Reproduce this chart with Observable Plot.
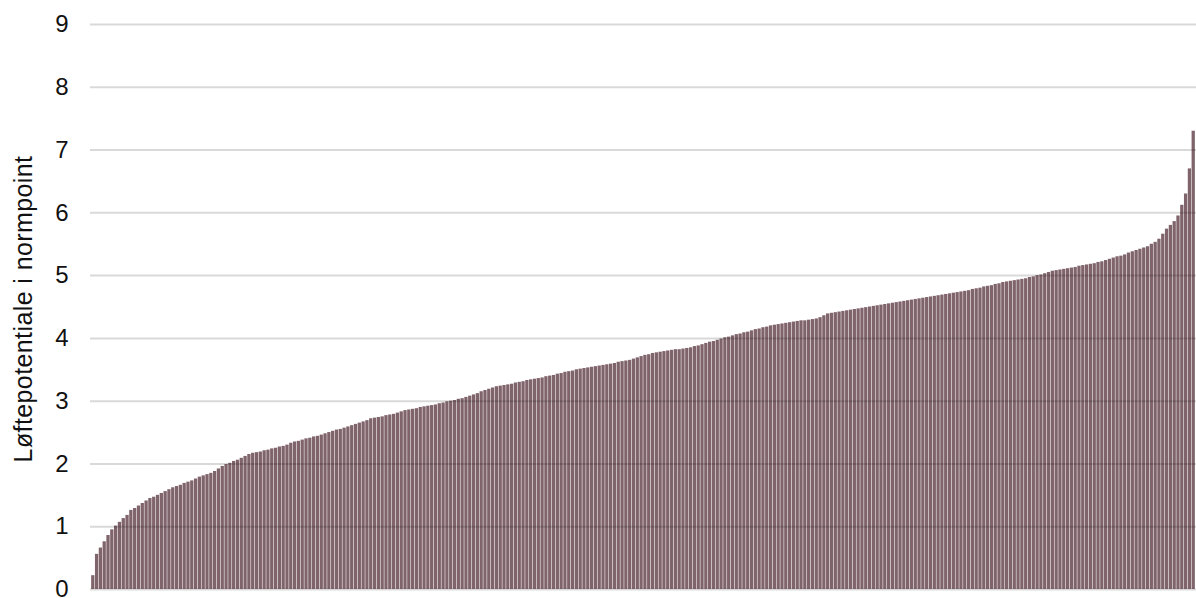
<!DOCTYPE html>
<html>
<head>
<meta charset="utf-8">
<script src="https://cdn.jsdelivr.net/npm/d3@7"></script>
<script src="https://cdn.jsdelivr.net/npm/@observablehq/plot@0.6"></script>
<style>
  html, body { margin: 0; padding: 0; background: #fff; }
  #chart { width: 1196px; height: 598px; overflow: hidden; }
</style>
</head>
<body>
<div id="chart"></div>
<script>
// Løftepotentiale per enhed, sorteret stigende
const values = [
  0.22, 0.56, 0.66, 0.76, 0.86, 0.95, 1.01, 1.07, 1.13, 1.18,
  1.26, 1.29, 1.33, 1.37, 1.41, 1.45, 1.47, 1.50, 1.53, 1.56,
  1.59, 1.62, 1.64, 1.66, 1.69, 1.71, 1.73, 1.76, 1.79, 1.81,
  1.83, 1.85, 1.88, 1.92, 1.96, 1.99, 2.01, 2.04, 2.06, 2.09,
  2.12, 2.15, 2.17, 2.18, 2.19, 2.21, 2.22, 2.24, 2.25, 2.27,
  2.28, 2.30, 2.33, 2.35, 2.36, 2.38, 2.40, 2.41, 2.43, 2.44,
  2.46, 2.48, 2.50, 2.52, 2.54, 2.55, 2.57, 2.59, 2.61, 2.63,
  2.65, 2.67, 2.69, 2.72, 2.73, 2.74, 2.75, 2.77, 2.78, 2.79,
  2.81, 2.83, 2.85, 2.86, 2.87, 2.88, 2.90, 2.91, 2.92, 2.93,
  2.94, 2.96, 2.97, 2.99, 3.00, 3.01, 3.03, 3.04, 3.06, 3.08,
  3.10, 3.12, 3.15, 3.17, 3.19, 3.21, 3.23, 3.24, 3.25, 3.26,
  3.27, 3.29, 3.30, 3.31, 3.33, 3.34, 3.35, 3.36, 3.37, 3.39,
  3.40, 3.41, 3.43, 3.44, 3.46, 3.47, 3.48, 3.50, 3.51, 3.52,
  3.53, 3.54, 3.55, 3.56, 3.57, 3.58, 3.59, 3.60, 3.62, 3.63,
  3.64, 3.65, 3.67, 3.69, 3.71, 3.73, 3.74, 3.76, 3.77, 3.78,
  3.79, 3.80, 3.81, 3.82, 3.82, 3.83, 3.84, 3.85, 3.87, 3.88,
  3.90, 3.92, 3.94, 3.95, 3.97, 3.99, 4.01, 4.02, 4.04, 4.06,
  4.07, 4.09, 4.10, 4.12, 4.14, 4.15, 4.17, 4.18, 4.20, 4.21,
  4.22, 4.23, 4.24, 4.25, 4.26, 4.27, 4.28, 4.28, 4.29, 4.30,
  4.31, 4.33, 4.36, 4.39, 4.40, 4.41, 4.42, 4.43, 4.44, 4.45,
  4.46, 4.47, 4.48, 4.49, 4.50, 4.51, 4.52, 4.53, 4.54, 4.55,
  4.56, 4.57, 4.58, 4.59, 4.60, 4.61, 4.62, 4.63, 4.64, 4.65,
  4.66, 4.67, 4.68, 4.69, 4.70, 4.71, 4.72, 4.73, 4.74, 4.75,
  4.76, 4.78, 4.79, 4.80, 4.82, 4.83, 4.84, 4.86, 4.87, 4.89,
  4.90, 4.91, 4.92, 4.93, 4.94, 4.95, 4.97, 4.98, 5.00, 5.01,
  5.03, 5.05, 5.07, 5.08, 5.09, 5.10, 5.11, 5.12, 5.13, 5.15,
  5.16, 5.17, 5.18, 5.19, 5.21, 5.22, 5.24, 5.26, 5.28, 5.30,
  5.31, 5.33, 5.36, 5.38, 5.40, 5.42, 5.44, 5.46, 5.50, 5.53,
  5.58, 5.66, 5.74, 5.80, 5.86, 5.95, 6.12, 6.30, 6.70, 7.30
];
const yTicks = [0, 1, 2, 3, 4, 5, 6, 7, 8, 9];
const yLabel = "Løftepotentiale i normpoint";

const data = values.map((v, i) => ({ rank: i, value: v }));

const chart = Plot.plot({
  width: 1196,
  height: 598,
  marginLeft: 90,
  marginRight: 0,
  marginTop: 24,
  marginBottom: 9,
  style: { fontFamily: "'Liberation Sans', Arial, Helvetica, sans-serif", background: "#fff", overflow: "visible" },
  x: { type: "band", domain: data.map(d => d.rank), paddingInner: 0.14, paddingOuter: 0.3, axis: null },
  y: { domain: [0, 9], ticks: yTicks, label: null },
  marks: [
    Plot.barY(data, { x: "rank", y: "value", fill: "#80646c" }),
    Plot.gridY(yTicks, { stroke: "#000", strokeOpacity: 0.15, strokeWidth: 2 }),
    Plot.axisY(yTicks, {
      tickSize: 0, tickPadding: 22, fontSize: 24, fill: "#111",
      label: null, tickFormat: d => String(d)
    }),
    Plot.text([yLabel], {
      frameAnchor: "left", dx: -67, dy: 2, rotate: -90, fontSize: 25, fill: "#111",
      textAnchor: "middle", text: d => d
    })
  ]
});
chart.querySelectorAll("text").forEach(t => {
  if (t.textContent === yLabel) t.setAttribute("letter-spacing", "0.4");
});
document.getElementById("chart").appendChild(chart);
</script>
</body>
</html>
